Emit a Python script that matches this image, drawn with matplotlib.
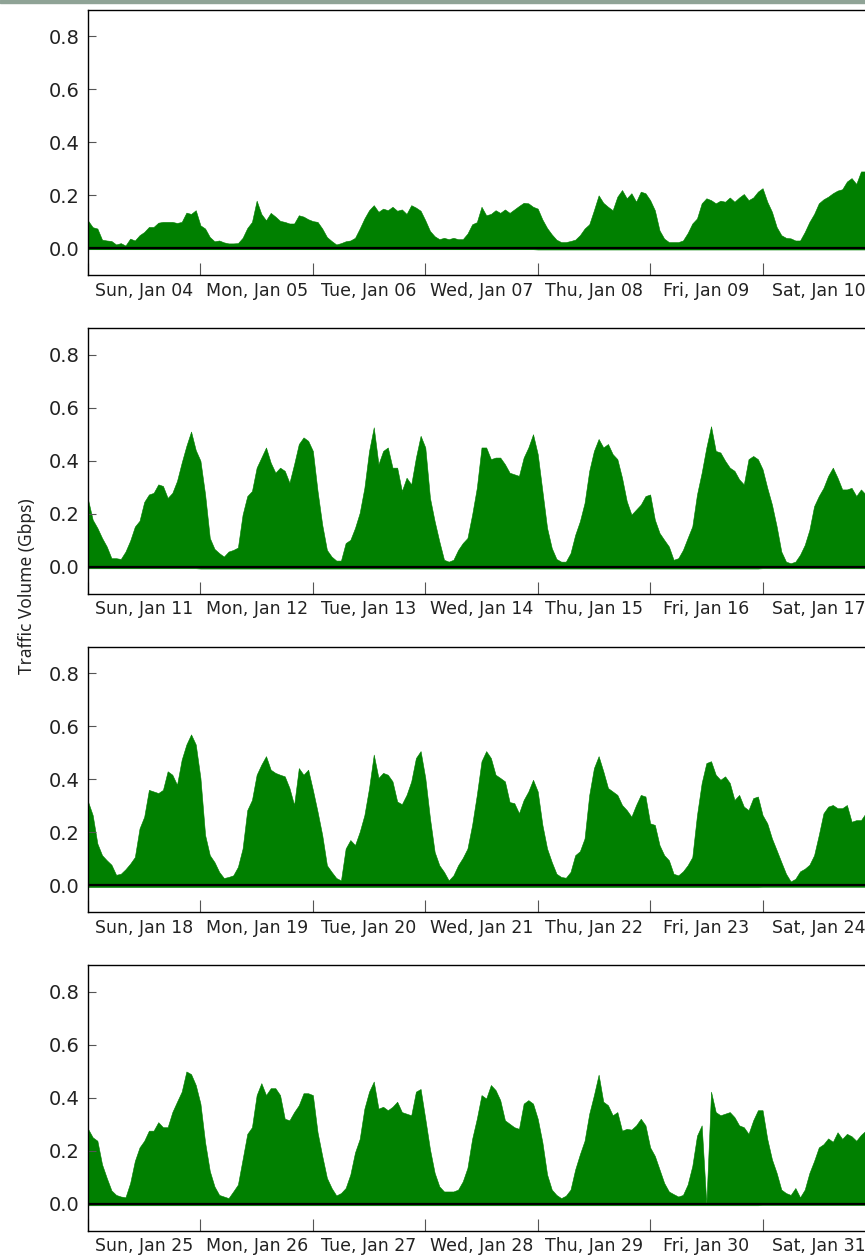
import matplotlib
matplotlib.use("Agg")
import matplotlib.pyplot as plt
import matplotlib.dates as mdates
import numpy as np
import pandas as pd
from matplotlib.patches import Rectangle

# hourly traffic (Gbps), one list per week starting Sunday 00:00
week_starts = ["2015-01-04", "2015-01-11", "2015-01-18", "2015-01-25"]

week1 = [
    0.105, 0.08, 0.075, 0.033, 0.03, 0.028, 0.015, 0.02, 0.011, 0.037, 0.03, 0.05, 0.062, 0.081, 0.081, 0.097, 0.1, 0.1, 0.1, 0.096, 0.1, 0.135, 0.13, 0.144,
    0.087, 0.075, 0.043, 0.027, 0.03, 0.023, 0.019, 0.019, 0.02, 0.04, 0.077, 0.1, 0.18, 0.13, 0.106, 0.134, 0.12, 0.104, 0.1, 0.094, 0.094, 0.125, 0.12, 0.11,
    0.103, 0.1, 0.075, 0.043, 0.028, 0.015, 0.02, 0.027, 0.03, 0.04, 0.075, 0.113, 0.144, 0.163, 0.138, 0.15, 0.144, 0.157, 0.142, 0.147, 0.13, 0.163, 0.154, 0.142,
    0.106, 0.066, 0.046, 0.035, 0.04, 0.035, 0.04, 0.035, 0.035, 0.056, 0.091, 0.099, 0.157, 0.125, 0.13, 0.144, 0.134, 0.147, 0.134, 0.147, 0.16, 0.172, 0.17, 0.157,
    0.15, 0.109, 0.077, 0.053, 0.033, 0.024, 0.024, 0.028, 0.033, 0.05, 0.075, 0.091, 0.144, 0.2, 0.172, 0.157, 0.144, 0.195, 0.22, 0.189, 0.208, 0.176, 0.214, 0.208,
    0.182, 0.144, 0.068, 0.037, 0.024, 0.024, 0.024, 0.03, 0.058, 0.094, 0.113, 0.17, 0.189, 0.182, 0.17, 0.18, 0.176, 0.192, 0.176, 0.192, 0.205, 0.182, 0.192, 0.214,
    0.227, 0.176, 0.138, 0.081, 0.05, 0.04, 0.038, 0.03, 0.03, 0.062, 0.1, 0.13, 0.17, 0.185, 0.195, 0.208, 0.218, 0.223, 0.252, 0.265, 0.243, 0.29, 0.29, 0.28,
]

week2 = [
    0.254, 0.178, 0.147, 0.109, 0.077, 0.033, 0.033, 0.03, 0.058, 0.099, 0.152, 0.174, 0.245, 0.273, 0.279, 0.311, 0.305, 0.26, 0.279, 0.324, 0.393, 0.456, 0.51, 0.44,
    0.4, 0.273, 0.109, 0.068, 0.052, 0.039, 0.058, 0.064, 0.073, 0.197, 0.267, 0.286, 0.374, 0.412, 0.45, 0.393, 0.355, 0.374, 0.362, 0.317, 0.387, 0.463, 0.488, 0.475,
    0.437, 0.286, 0.159, 0.064, 0.039, 0.024, 0.024, 0.09, 0.102, 0.147, 0.204, 0.298, 0.437, 0.526, 0.387, 0.437, 0.45, 0.374, 0.374, 0.286, 0.336, 0.311, 0.412, 0.494,
    0.45, 0.26, 0.172, 0.096, 0.027, 0.02, 0.027, 0.064, 0.09, 0.109, 0.197, 0.298, 0.45, 0.45, 0.406, 0.412, 0.412, 0.387, 0.355, 0.349, 0.343, 0.412, 0.45, 0.5,
    0.425, 0.286, 0.147, 0.071, 0.03, 0.02, 0.02, 0.052, 0.121, 0.172, 0.241, 0.362, 0.437, 0.482, 0.45, 0.463, 0.425, 0.406, 0.336, 0.248, 0.197, 0.216, 0.235, 0.267,
    0.273, 0.178, 0.128, 0.102, 0.077, 0.027, 0.033, 0.064, 0.109, 0.153, 0.273, 0.355, 0.45, 0.53, 0.437, 0.431, 0.4, 0.374, 0.362, 0.33, 0.311, 0.406, 0.418, 0.406,
    0.368, 0.298, 0.235, 0.153, 0.058, 0.02, 0.014, 0.02, 0.046, 0.083, 0.14, 0.229, 0.267, 0.298, 0.343, 0.374, 0.336, 0.292, 0.292, 0.298, 0.267, 0.292, 0.273, 0.27,
]

week3 = [
    0.316, 0.265, 0.158, 0.114, 0.095, 0.078, 0.04, 0.044, 0.061, 0.082, 0.107, 0.215, 0.259, 0.36, 0.354, 0.348, 0.36, 0.43, 0.417, 0.379, 0.474, 0.531, 0.569, 0.531,
    0.405, 0.19, 0.114, 0.088, 0.051, 0.028, 0.032, 0.038, 0.07, 0.139, 0.284, 0.322, 0.417, 0.455, 0.487, 0.436, 0.424, 0.417, 0.411, 0.367, 0.303, 0.442, 0.417, 0.436,
    0.36, 0.278, 0.19, 0.076, 0.051, 0.028, 0.019, 0.139, 0.171, 0.152, 0.202, 0.265, 0.367, 0.493, 0.405, 0.424, 0.417, 0.392, 0.316, 0.306, 0.341, 0.392, 0.48, 0.506,
    0.405, 0.253, 0.126, 0.076, 0.051, 0.019, 0.038, 0.076, 0.104, 0.139, 0.228, 0.341, 0.468, 0.506, 0.48, 0.417, 0.405, 0.392, 0.314, 0.31, 0.272, 0.322, 0.354, 0.398,
    0.354, 0.228, 0.139, 0.088, 0.044, 0.032, 0.029, 0.051, 0.114, 0.129, 0.177, 0.341, 0.442, 0.487, 0.43, 0.367, 0.354, 0.341, 0.303, 0.284, 0.259, 0.303, 0.341, 0.335,
    0.234, 0.228, 0.152, 0.114, 0.095, 0.044, 0.038, 0.053, 0.076, 0.107, 0.265, 0.386, 0.461, 0.468, 0.417, 0.398, 0.411, 0.386, 0.322, 0.341, 0.297, 0.284, 0.329, 0.335,
    0.265, 0.234, 0.177, 0.133, 0.088, 0.044, 0.015, 0.025, 0.053, 0.063, 0.078, 0.114, 0.19, 0.272, 0.297, 0.303, 0.291, 0.291, 0.303, 0.24, 0.246, 0.246, 0.272, 0.27,
]

week4 = [
    0.283, 0.251, 0.238, 0.149, 0.098, 0.051, 0.034, 0.028, 0.025, 0.079, 0.162, 0.213, 0.238, 0.276, 0.276, 0.308, 0.289, 0.289, 0.346, 0.385, 0.423, 0.499, 0.489, 0.448,
    0.378, 0.232, 0.124, 0.066, 0.034, 0.028, 0.022, 0.047, 0.073, 0.168, 0.264, 0.289, 0.41, 0.455, 0.41, 0.436, 0.436, 0.41, 0.321, 0.315, 0.346, 0.372, 0.417, 0.417,
    0.41, 0.27, 0.181, 0.098, 0.06, 0.032, 0.041, 0.06, 0.111, 0.194, 0.245, 0.359, 0.423, 0.461, 0.359, 0.366, 0.353, 0.366, 0.385, 0.346, 0.34, 0.334, 0.423, 0.433,
    0.321, 0.206, 0.117, 0.066, 0.047, 0.047, 0.047, 0.054, 0.085, 0.136, 0.245, 0.321, 0.41, 0.397, 0.448, 0.429, 0.391, 0.315, 0.302, 0.289, 0.283, 0.378, 0.391, 0.378,
    0.321, 0.232, 0.111, 0.054, 0.034, 0.022, 0.031, 0.054, 0.13, 0.187, 0.238, 0.34, 0.41, 0.487, 0.385, 0.372, 0.334, 0.346, 0.276, 0.283, 0.28, 0.296, 0.321, 0.296,
    0.213, 0.181, 0.13, 0.079, 0.047, 0.037, 0.028, 0.034, 0.073, 0.143, 0.257, 0.296, 0.0, 0.423, 0.346, 0.334, 0.34, 0.346, 0.327, 0.296, 0.289, 0.264, 0.315, 0.353,
    0.353, 0.245, 0.168, 0.117, 0.054, 0.041, 0.034, 0.06, 0.025, 0.054, 0.117, 0.162, 0.213, 0.225, 0.247, 0.234, 0.27, 0.245, 0.264, 0.255, 0.238, 0.26, 0.276, 0.27,
]

# small reverse-direction volume per day, drawn below zero
reverse1 = [-0.003, -0.003, -0.003, -0.003, -0.004, -0.004, -0.004]
reverse2 = [-0.005, -0.006, -0.006, -0.006, -0.006, -0.006, -0.005]
reverse3 = [-0.006, -0.006, -0.006, -0.006, -0.006, -0.006, -0.005]
reverse4 = [-0.005, -0.005, -0.005, -0.005, -0.005, -0.005, -0.004]

weeks = [week1, week2, week3, week4]
reverses = [reverse1, reverse2, reverse3, reverse4]

fig = plt.figure(figsize=(8.65, 12.56), dpi=100)
fig.patches.append(Rectangle((0, 1 - 3 / 1256), 1, 3 / 1256, transform=fig.transFigure,
                             color="#8fa396", zorder=10))

left, width, height = 88 / 865, 787 / 865, 265.5 / 1256
bottoms = [1 - 275 / 1256, 1 - 593.5 / 1256, 1 - 912 / 1256, 1 - 1230.5 / 1256]

for start, vals, rev, bottom in zip(week_starts, weeks, reverses, bottoms):
    ax = fig.add_axes([left, bottom, width, height])
    t = pd.date_range(start, periods=len(vals), freq="h").to_pydatetime()
    ax.fill_between(t, 0, vals, color="green", lw=0.4)
    ax.fill_between(t, np.repeat(rev, 24), 0, color="green", lw=0.4)
    ax.axhline(0, color="black", lw=1.6)

    t0 = pd.Timestamp(start)
    ax.set_xlim(t0, t0 + pd.Timedelta(days=7))
    ax.set_ylim(-0.1, 0.9)
    ax.set_yticks([0.0, 0.2, 0.4, 0.6, 0.8])
    ax.yaxis.set_major_formatter(matplotlib.ticker.FormatStrFormatter("%.1f"))

    ax.xaxis.set_major_locator(mdates.DayLocator())
    ax.xaxis.set_major_formatter(matplotlib.ticker.NullFormatter())
    ax.xaxis.set_minor_locator(mdates.HourLocator(byhour=12))
    ax.xaxis.set_minor_formatter(mdates.DateFormatter("%a, %b %d"))

    ax.tick_params(axis="x", which="major", direction="in", length=9, width=0.8, color="#555555")
    ax.tick_params(axis="x", which="minor", length=0, pad=5, labelsize=12.5, labelcolor="#222222")
    ax.tick_params(axis="y", which="major", direction="in", length=6, width=0.8,
                   pad=6, labelsize=14, labelcolor="#222222", color="#555555")
    for s in ax.spines.values():
        s.set_color("black")
        s.set_linewidth(1.0)

fig.text(0.031, 0.533, "Traffic Volume (Gbps)", rotation=90, ha="center", va="center",
         fontsize=12.5, family="Noto Sans", color="#222222")

fig.savefig("out.png", dpi=100)
